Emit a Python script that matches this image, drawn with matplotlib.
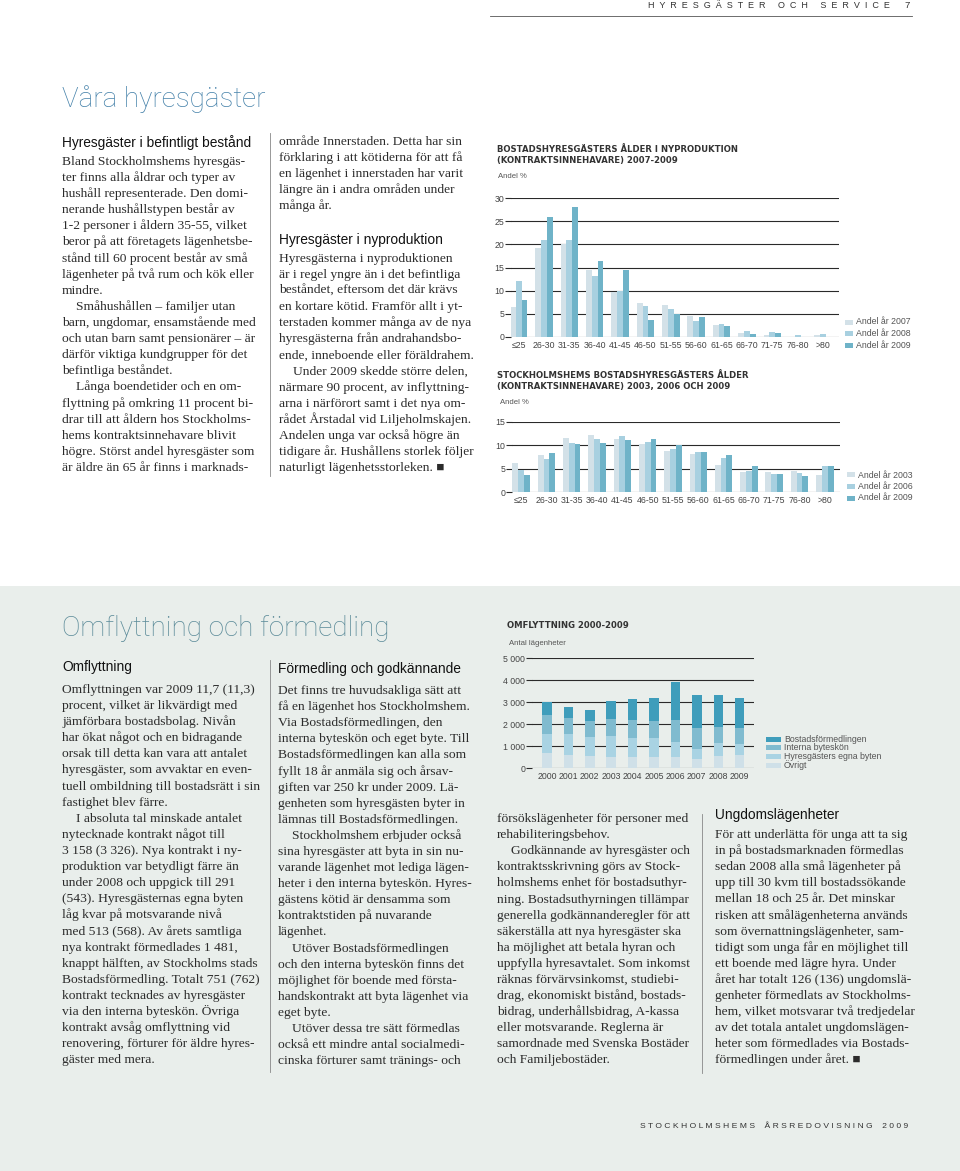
import matplotlib
matplotlib.use("Agg")
import matplotlib.pyplot as plt
from matplotlib.patches import Rectangle
import numpy as np

W, H = 960, 1171

# ---------------- data ----------------
age_groups = ["≤25", "26-30", "31-35", "36-40", "41-45", "46-50", "51-55",
              "56-60", "61-65", "66-70", "71-75", "76-80", ">80"]

nyprod_2007 = [6.4, 19.3, 20.0, 14.5, 9.8, 7.4, 7.0, 4.5, 2.5, 0.9, 0.5, 0.0, 0.5]
nyprod_2008 = [12.0, 21.0, 21.0, 13.2, 10.0, 6.7, 6.0, 3.4, 2.7, 1.4, 1.1, 0.5, 0.6]
nyprod_2009 = [7.9, 25.8, 28.1, 16.3, 14.5, 3.6, 5.0, 4.4, 2.4, 0.6, 0.8, 0.0, 0.0]

alla_2003 = [6.2, 8.0, 11.5, 12.3, 11.4, 10.3, 8.7, 8.2, 5.7, 4.3, 4.2, 4.5, 3.6]
alla_2006 = [4.7, 7.0, 10.5, 11.3, 12.0, 10.8, 9.3, 8.5, 7.2, 4.5, 3.9, 4.0, 5.6]
alla_2009 = [3.7, 8.4, 10.2, 10.5, 11.2, 11.4, 10.1, 8.6, 7.9, 5.5, 3.8, 3.4, 5.5]

years = ["2000", "2001", "2002", "2003", "2004", "2005", "2006", "2007", "2008", "2009"]
ovrigt = [700, 600, 530, 500, 500, 500, 520, 430, 560, 600]
egna_byten = [860, 930, 860, 940, 880, 850, 640, 450, 570, 500]
interna_byteskon = [860, 730, 730, 790, 800, 770, 1000, 950, 720, 730]
bostadsformedlingen = [580, 520, 530, 820, 940, 1080, 1760, 1510, 1450, 1370]

c_light, c_mid, c_dark = "#d3e1e8", "#a8d0e0", "#6fb3c8"
c_bf, c_int, c_egna, c_ovr = "#3f9dbb", "#80bbcf", "#a9d3e3", "#cfe0e8"
title_col = "#4682aa"
txt_col = "#2b2b2b"

serif = ["Liberation Serif", "DejaVu Sans"]
sans = ["Liberation Sans", "DejaVu Sans"]

fig = plt.figure(figsize=(9.6, 11.71), dpi=100)
fig.patch.set_facecolor("white")


def fx(x):
    return x / W


def fy(y):
    return 1 - y / H


def ax_rect(left, top, right, bottom):
    return [left / W, 1 - bottom / H, (right - left) / W, (bottom - top) / H]


# grey lower half
fig.patches.append(Rectangle((0, 0), 1, fy(586), transform=fig.transFigure,
                             facecolor="#e9eeeb", edgecolor="none", zorder=-5))

# header / footer
fig.text(fx(890), fy(6), "H  Y  R  E  S  G  Ä  S  T  E  R     O  C  H     S  E  R  V  I  C  E",
         ha="right", va="center", fontsize=6.5, color="#333", family=sans)
fig.text(fx(910), fy(6), "7", ha="right", va="center", fontsize=6.8, color="#333", family=sans)
fig.lines.append(plt.Line2D([fx(490), fx(912)], [fy(15.5), fy(15.5)], transform=fig.transFigure,
                            color="#555", lw=0.6))
fig.text(fx(908), fy(1126), "S T O C K H O L M S H E M S    Å R S R E D O V I S N I N G    2 0 0 9",
         ha="right", va="center", fontsize=6.1, color="#333", family=sans)

# big titles
fig.text(fx(62), fy(99), "Våra hyresgäster", ha="left", va="center", fontsize=20,
         color=title_col, family=["Roboto", "DejaVu Sans"], fontweight="light")
fig.text(fx(62), fy(629), "Omflyttning och förmedling", ha="left", va="center", fontsize=20,
         color="#5a8a98", family=["Roboto", "DejaVu Sans"], fontweight="light")

PITCH = 16.1


def heading(x, y, s):
    fig.text(fx(x), fy(y), s, ha="left", va="center", fontsize=9.9, color="#111",
             family=sans, fontweight="normal")


def body(x, y0, lines):
    # y0 = centre of first line; lines starting with \t are indented
    for i, ln in enumerate(lines):
        xx = x
        if ln.startswith("\t"):
            ln = ln[1:]
            xx = x + 14
        fig.text(fx(xx), fy(y0 + i * PITCH + 4), ln, ha="left", va="baseline",
                 fontsize=9.7, color=txt_col, family=serif)


col1_top = [
    "Bland Stockholmshems hyresgäs-",
    "ter finns alla åldrar och typer av",
    "hushåll representerade. Den domi-",
    "nerande hushållstypen består av",
    "1-2 personer i åldern 35-55, vilket",
    "beror på att företagets lägenhetsbe-",
    "stånd till 60 procent består av små",
    "lägenheter på två rum och kök eller",
    "mindre.",
    "\tSmåhushållen – familjer utan",
    "barn, ungdomar, ensamstående med",
    "och utan barn samt pensionärer – är",
    "därför viktiga kundgrupper för det",
    "befintliga beståndet.",
    "\tLånga boendetider och en om-",
    "flyttning på omkring 11 procent bi-",
    "drar till att åldern hos Stockholms-",
    "hems kontraktsinnehavare blivit",
    "högre. Störst andel hyresgäster som",
    "är äldre än 65 år finns i marknads-",
]
col2_top_a = [
    "område Innerstaden. Detta har sin",
    "förklaring i att kötiderna för att få",
    "en lägenhet i innerstaden har varit",
    "längre än i andra områden under",
    "många år.",
]
col2_top_b = [
    "Hyresgästerna i nyproduktionen",
    "är i regel yngre än i det befintliga",
    "beståndet, eftersom det där krävs",
    "en kortare kötid. Framför allt i yt-",
    "terstaden kommer många av de nya",
    "hyresgästerna från andrahandsbo-",
    "ende, inneboende eller föräldrahem.",
    "\tUnder 2009 skedde större delen,",
    "närmare 90 procent, av inflyttning-",
    "arna i närförort samt i det nya om-",
    "rådet Årstadal vid Liljeholmskajen.",
    "Andelen unga var också högre än",
    "tidigare år. Hushållens storlek följer",
    "naturligt lägenhetsstorleken. ■",
]
col1_low = [
    "Omflyttningen var 2009 11,7 (11,3)",
    "procent, vilket är likvärdigt med",
    "jämförbara bostadsbolag. Nivån",
    "har ökat något och en bidragande",
    "orsak till detta kan vara att antalet",
    "hyresgäster, som avvaktar en even-",
    "tuell ombildning till bostadsrätt i sin",
    "fastighet blev färre.",
    "\tI absoluta tal minskade antalet",
    "nytecknade kontrakt något till",
    "3 158 (3 326). Nya kontrakt i ny-",
    "produktion var betydligt färre än",
    "under 2008 och uppgick till 291",
    "(543). Hyresgästernas egna byten",
    "låg kvar på motsvarande nivå",
    "med 513 (568). Av årets samtliga",
    "nya kontrakt förmedlades 1 481,",
    "knappt hälften, av Stockholms stads",
    "Bostadsförmedling. Totalt 751 (762)",
    "kontrakt tecknades av hyresgäster",
    "via den interna byteskön. Övriga",
    "kontrakt avsåg omflyttning vid",
    "renovering, förturer för äldre hyres-",
    "gäster med mera.",
]
col2_low = [
    "Det finns tre huvudsakliga sätt att",
    "få en lägenhet hos Stockholmshem.",
    "Via Bostadsförmedlingen, den",
    "interna byteskön och eget byte. Till",
    "Bostadsförmedlingen kan alla som",
    "fyllt 18 år anmäla sig och årsav-",
    "giften var 250 kr under 2009. Lä-",
    "genheten som hyresgästen byter in",
    "lämnas till Bostadsförmedlingen.",
    "\tStockholmshem erbjuder också",
    "sina hyresgäster att byta in sin nu-",
    "varande lägenhet mot lediga lägen-",
    "heter i den interna byteskön. Hyres-",
    "gästens kötid är densamma som",
    "kontraktstiden på nuvarande",
    "lägenhet.",
    "\tUtöver Bostadsförmedlingen",
    "och den interna byteskön finns det",
    "möjlighet för boende med första-",
    "handskontrakt att byta lägenhet via",
    "eget byte.",
    "\tUtöver dessa tre sätt förmedlas",
    "också ett mindre antal socialmedi-",
    "cinska förturer samt tränings- och",
]
col3_low = [
    "försökslägenheter för personer med",
    "rehabiliteringsbehov.",
    "\tGodkännande av hyresgäster och",
    "kontraktsskrivning görs av Stock-",
    "holmshems enhet för bostadsuthyr-",
    "ning. Bostadsuthyrningen tillämpar",
    "generella godkännanderegler för att",
    "säkerställa att nya hyresgäster ska",
    "ha möjlighet att betala hyran och",
    "uppfylla hyresavtalet. Som inkomst",
    "räknas förvärvsinkomst, studiebi-",
    "drag, ekonomiskt bistånd, bostads-",
    "bidrag, underhållsbidrag, A-kassa",
    "eller motsvarande. Reglerna är",
    "samordnade med Svenska Bostäder",
    "och Familjebostäder.",
]
col4_low = [
    "För att underlätta för unga att ta sig",
    "in på bostadsmarknaden förmedlas",
    "sedan 2008 alla små lägenheter på",
    "upp till 30 kvm till bostadssökande",
    "mellan 18 och 25 år. Det minskar",
    "risken att smålägenheterna används",
    "som övernattningslägenheter, sam-",
    "tidigt som unga får en möjlighet till",
    "ett boende med lägre hyra. Under",
    "året har totalt 126 (136) ungdomslä-",
    "genheter förmedlats av Stockholms-",
    "hem, vilket motsvarar två tredjedelar",
    "av det totala antalet ungdomslägen-",
    "heter som förmedlades via Bostads-",
    "förmedlingen under året. ■",
]

heading(62, 143, "Hyresgäster i befintligt bestånd")
body(62, 161, col1_top)
body(279, 141, col2_top_a)
heading(279, 240, "Hyresgäster i nyproduktion")
body(279, 258, col2_top_b)

heading(62, 667, "Omflyttning")
body(62, 689, col1_low)
heading(278, 669, "Förmedling och godkännande")
body(278, 690, col2_low)
body(497, 818, col3_low)
heading(715, 815, "Ungdomslägenheter")
body(715, 834, col4_low)

# column separators
for x, y1, y2 in [(270, 133, 476), (270, 660, 1072), (702, 814, 1073)]:
    fig.lines.append(plt.Line2D([fx(x), fx(x)], [fy(y1), fy(y2)], transform=fig.transFigure,
                                color="#888", lw=0.6))


def style_axes(ax, ymax, step, fmt):
    ax.set_facecolor("none")
    for s in ax.spines.values():
        s.set_visible(False)
    ax.set_ylim(0, ymax)
    ticks = np.arange(0, ymax + step / 2, step)
    ax.set_yticks(ticks)
    ax.set_yticklabels([fmt(t) for t in ticks])
    ax.yaxis.grid(True, color="#2a2a2a", lw=0.8)
    ax.set_axisbelow(True)
    ax.tick_params(axis="y", length=4, width=0.8, color="#2a2a2a", pad=1,
                   labelsize=6.3, labelcolor="#444")
    ax.tick_params(axis="x", length=0, pad=3, labelsize=6.3, labelcolor="#444")
    for lab in ax.get_xticklabels() + ax.get_yticklabels():
        lab.set_family(sans)


def legend_block(x, y0, dy, sw, sh, items):
    for i, (col, lab) in enumerate(items):
        yy = y0 + i * dy
        fig.patches.append(Rectangle((fx(x), fy(yy + sh / 2)), sw / W, sh / H,
                                     transform=fig.transFigure, facecolor=col, edgecolor="none"))
        fig.text(fx(x + sw + 3), fy(yy), lab, ha="left", va="center", fontsize=6.3,
                 color="#555", family=sans)


def chart_title(x, y, s):
    fig.text(fx(x), fy(y), s, ha="left", va="center", fontsize=6.1, color="#333",
             family=["DejaVu Sans"], fontweight="bold")


# ---------- chart 1 ----------
chart_title(497, 149, "BOSTADSHYRESGÄSTERS ÅLDER I NYPRODUKTION")
chart_title(497, 160, "(KONTRAKTSINNEHAVARE) 2007-2009")
fig.text(fx(498), fy(177), "Andel %", ha="left", va="center", fontsize=5.6, color="#555", family=sans)
ax1 = fig.add_axes(ax_rect(511, 198, 839, 337))
x = np.arange(len(age_groups))
bw = 0.23
ax1.bar(x - bw, nyprod_2007, bw, color=c_light)
ax1.bar(x, nyprod_2008, bw, color=c_mid)
ax1.bar(x + bw, nyprod_2009, bw, color=c_dark)
ax1.set_xlim(-0.3, 12.63)
ax1.set_xticks(x)
ax1.set_xticklabels(age_groups)
style_axes(ax1, 30, 5, lambda t: "%d" % t)
legend_block(845, 322, 11.5, 8, 5, [(c_light, "Andel år 2007"), (c_mid, "Andel år 2008"),
                                     (c_dark, "Andel år 2009")])

# ---------- chart 2 ----------
chart_title(497, 375, "STOCKHOLMSHEMS BOSTADSHYRESGÄSTERS ÅLDER")
chart_title(497, 386, "(KONTRAKTSINNEHAVARE) 2003, 2006 OCH 2009")
fig.text(fx(500), fy(403), "Andel %", ha="left", va="center", fontsize=5.6, color="#555", family=sans)
ax2 = fig.add_axes(ax_rect(512, 422, 840, 492))
ax2.bar(x - bw, alla_2003, bw, color=c_light)
ax2.bar(x, alla_2006, bw, color=c_mid)
ax2.bar(x + bw, alla_2009, bw, color=c_dark)
ax2.set_xlim(-0.36, 12.6)
ax2.set_xticks(x)
ax2.set_xticklabels(age_groups)
style_axes(ax2, 15, 5, lambda t: "%d" % t)
legend_block(847, 475, 11.5, 8, 5, [(c_light, "Andel år 2003"), (c_mid, "Andel år 2006"),
                                     (c_dark, "Andel år 2009")])

# ---------- chart 3 ----------
chart_title(507, 625, "OMFLYTTNING 2000-2009")
fig.text(fx(509), fy(644), "Antal lägenheter", ha="left", va="center", fontsize=5.6, color="#555",
         family=sans)
ax3 = fig.add_axes(ax_rect(532, 658, 754, 768))
xy = np.arange(len(years))
b0 = np.array(ovrigt)
b1 = b0 + np.array(egna_byten)
b2 = b1 + np.array(interna_byteskon)
ax3.bar(xy, ovrigt, 0.44, color=c_ovr)
ax3.bar(xy, egna_byten, 0.44, bottom=b0, color=c_egna)
ax3.bar(xy, interna_byteskon, 0.44, bottom=b1, color=c_int)
ax3.bar(xy, bostadsformedlingen, 0.44, bottom=b2, color=c_bf)
ax3.set_xlim(-0.7, 9.67)
ax3.set_xticks(xy)
ax3.set_xticklabels(years)
style_axes(ax3, 5000, 1000, lambda t: "0" if t == 0 else "%d %03d" % (t // 1000, t % 1000))
legend_block(766, 739, 8.8, 15, 5, [(c_bf, "Bostadsförmedlingen"), (c_int, "Interna byteskön"),
                                    (c_egna, "Hyresgästers egna byten"), (c_ovr, "Övrigt")])

fig.savefig("out.png", dpi=100)
